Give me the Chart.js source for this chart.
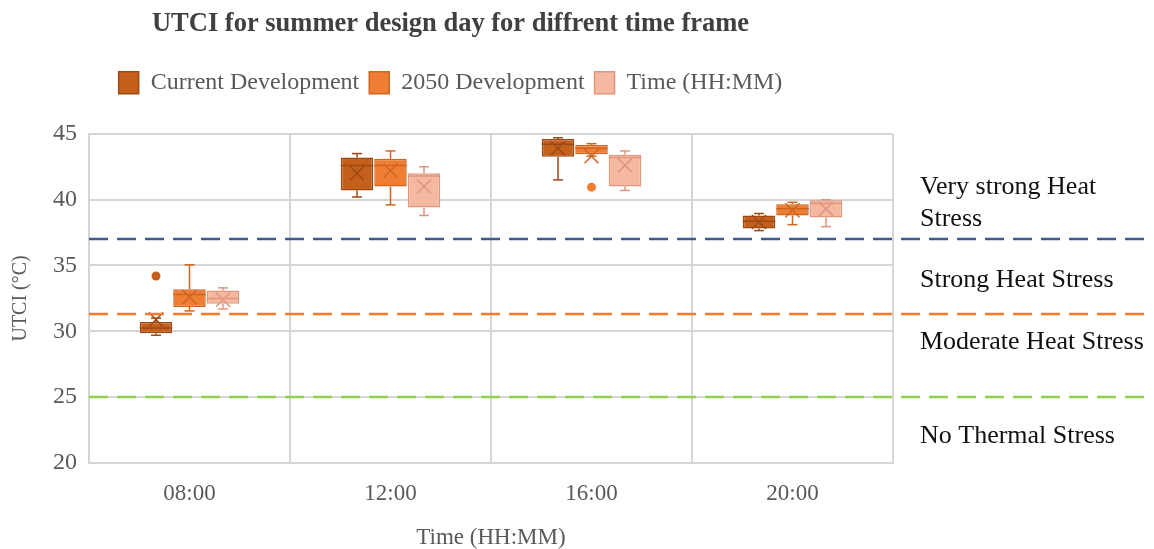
<!DOCTYPE html>
<html>
<head>
<meta charset="utf-8">
<script src="https://cdn.jsdelivr.net/npm/chart.js@4.4.1/dist/chart.umd.min.js"></script>
<style>
  html, body { margin: 0; padding: 0; background: #fff; }
  #wrap { width: 1154px; height: 549px; }
</style>
</head>
<body>
<div id="wrap"><canvas id="utci"></canvas></div>
<script>
// categories and box plot stats
var times = ['08:00', '12:00', '16:00', '20:00'];
var seriesNames = ['Current Development', '2050 Development', 'Time (HH:MM)'];

var currentMin = [29.7, 40.2, 41.5, 37.65];
var currentQ1 = [29.85, 40.7, 43.25, 37.8];
var currentMedian = [30.25, 42.6, 44.2, 38.35];
var currentQ3 = [30.7, 43.2, 44.6, 38.8];
var currentMax = [31.0, 43.5, 44.7, 38.95];
var currentMean = [30.9, 42.0, 43.9, 38.3];
var currentOutliers = [[34.2], [], [], []];

var dev2050Min = [31.55, 39.6, 43.3, 38.1];
var dev2050Q1 = [31.85, 41.0, 43.45, 38.8];
var dev2050Median = [32.8, 42.6, 43.9, 39.3];
var dev2050Q3 = [33.2, 43.1, 44.15, 39.65];
var dev2050Max = [35.05, 43.7, 44.25, 39.8];
var dev2050Mean = [32.6, 42.2, 43.3, 39.2];
var dev2050Outliers = [[], [], [40.95], []];

var timeMin = [31.7, 38.8, 40.7, 37.95];
var timeQ1 = [32.1, 39.4, 41.0, 38.65];
var timeMedian = [32.5, 41.8, 43.2, 39.7];
var timeQ3 = [33.1, 42.0, 43.4, 39.95];
var timeMax = [33.3, 42.5, 43.7, 40.0];
var timeMean = [32.4, 41.0, 42.6, 39.3];
var timeOutliers = [[], [], [], []];

// heat stress thresholds and the text beside them
var thresholdValues = [37.0, 31.3, 25.0];
var stressLabels = [['Very strong Heat', 'Stress'], ['Strong Heat Stress'], ['Moderate Heat Stress'], ['No Thermal Stress']];
var stressLabelValues = [40.95, 33.9, 29.15, 22.0];

var yTicks = [20, 25, 30, 35, 40, 45];

var serif = "'Liberation Serif', 'Times New Roman', serif";
var fills = ['#c55f1c', '#ee7e33', '#f5b9a2'];
var lines = ['#9c4a14', '#cf6521', '#e0967b'];
var thresholdColors = ['#3f5b8c', '#ed7d31', '#92d050'];

var stats = [
  {min: currentMin, q1: currentQ1, med: currentMedian, q3: currentQ3, max: currentMax, mean: currentMean, out: currentOutliers},
  {min: dev2050Min, q1: dev2050Q1, med: dev2050Median, q3: dev2050Q3, max: dev2050Max, mean: dev2050Mean, out: dev2050Outliers},
  {min: timeMin, q1: timeQ1, med: timeMedian, q3: timeQ3, max: timeMax, mean: timeMean, out: timeOutliers}
];

function line(ctx, x1, y1, x2, y2) {
  ctx.beginPath();
  ctx.moveTo(x1, y1);
  ctx.lineTo(x2, y2);
  ctx.stroke();
}

// whiskers, median, mean cross and outliers on top of the floating bars
var boxParts = {
  id: 'boxParts',
  afterDatasetsDraw(chart) {
    var ctx = chart.ctx;
    var y = chart.scales.y;
    ctx.save();
    stats.forEach(function(s, i) {
      var meta = chart.getDatasetMeta(i);
      meta.data.forEach(function(bar, j) {
        var x = bar.x, half = bar.width / 2, cap = 5;
        ctx.strokeStyle = lines[i];
        ctx.lineWidth = 1.5;
        line(ctx, x, y.getPixelForValue(s.q3[j]), x, y.getPixelForValue(s.max[j]));
        line(ctx, x - cap, y.getPixelForValue(s.max[j]), x + cap, y.getPixelForValue(s.max[j]));
        line(ctx, x, y.getPixelForValue(s.q1[j]), x, y.getPixelForValue(s.min[j]));
        line(ctx, x - cap, y.getPixelForValue(s.min[j]), x + cap, y.getPixelForValue(s.min[j]));
        line(ctx, x - half, y.getPixelForValue(s.med[j]), x + half, y.getPixelForValue(s.med[j]));
        var m = y.getPixelForValue(s.mean[j]), k = 7;
        line(ctx, x - k, m - k, x + k, m + k);
        line(ctx, x - k, m + k, x + k, m - k);
        s.out[j].forEach(function(v) {
          ctx.beginPath();
          ctx.arc(x, y.getPixelForValue(v), 4.5, 0, Math.PI * 2);
          ctx.fillStyle = fills[i];
          ctx.fill();
        });
      });
    });
    ctx.restore();
  }
};

// dashed threshold lines running out past the plot, with their labels
var stressBands = {
  id: 'stressBands',
  afterDraw(chart) {
    var ctx = chart.ctx;
    var y = chart.scales.y;
    var area = chart.chartArea;
    ctx.save();
    ctx.lineWidth = 2.5;
    ctx.setLineDash([19, 9]);
    thresholdValues.forEach(function(v, i) {
      ctx.strokeStyle = thresholdColors[i];
      var py = Math.round(y.getPixelForValue(v));
      line(ctx, area.left, py, chart.width - 9, py);
    });
    ctx.setLineDash([]);
    ctx.fillStyle = '#111';
    ctx.font = '26px ' + serif;
    ctx.textBaseline = 'middle';
    ctx.textAlign = 'left';
    stressLabels.forEach(function(txt, i) {
      var py = y.getPixelForValue(stressLabelValues[i]);
      txt.forEach(function(t, n) {
        ctx.fillText(t, area.right + 27, py + n * 32);
      });
    });
    ctx.restore();
  }
};

// extra gap under the legend
var legendGap = {
  id: 'legendGap',
  beforeInit(chart) {
    var fit = chart.legend.fit;
    chart.legend.fit = function() {
      fit.call(this);
      this.height += 29;
    };
  }
};

Chart.defaults.font.family = serif;
Chart.defaults.color = '#595959';

new Chart('utci', {
  type: 'bar',
  data: {
    labels: times,
    datasets: stats.map(function(s, i) {
      return {
        label: seriesNames[i],
        data: s.q1.map(function(v, j) { return [v, s.q3[j]]; }),
        backgroundColor: fills[i],
        borderColor: lines[i],
        borderWidth: 1.5,
        borderSkipped: false,
        barPercentage: 0.97,
        categoryPercentage: 0.5
      };
    })
  },
  options: {
    responsive: true,
    maintainAspectRatio: false,
    animation: false,
    layout: { padding: { left: 8, right: 261, top: 0, bottom: 0 } },
    plugins: {
      tooltip: { enabled: false },
      title: {
        display: true,
        text: 'UTCI for summer design day for diffrent time frame',
        color: '#404040',
        font: { size: 26.5, weight: 'bold', family: serif },
        padding: { top: 8, bottom: 21 }
      },
      legend: {
        position: 'top',
        labels: {
          boxWidth: 20,
          boxHeight: 22,
          padding: 10,
          color: '#595959',
          font: { size: 24, family: serif }
        }
      }
    },
    scales: {
      x: {
        afterFit: function(scale) { scale.height = 86; },
        grid: { offset: true, color: '#d6d6d6', lineWidth: 2, drawTicks: false },
        border: { color: '#d6d6d6', width: 2 },
        ticks: { padding: 17, color: '#595959', font: { size: 23, family: serif } },
        title: {
          display: true,
          text: 'Time (HH:MM)',
          color: '#595959',
          font: { size: 23, family: serif, lineHeight: 1 },
          padding: { top: 0, bottom: 0 }
        }
      },
      y: {
        min: 20,
        max: 45,
        afterFit: function(scale) { scale.width = 81; },
        afterBuildTicks: function(scale) {
          scale.ticks = yTicks.map(function(v) { return {value: v}; });
        },
        grid: { color: '#d6d6d6', lineWidth: 2, drawTicks: false },
        border: { color: '#d6d6d6', width: 2 },
        ticks: { padding: 12, color: '#595959', font: { size: 24, family: serif } },
        title: {
          display: true,
          text: 'UTCI (°C)',
          color: '#595959',
          font: { size: 20, family: serif },
          padding: { top: 1, bottom: 0 }
        }
      }
    }
  },
  plugins: [legendGap, boxParts, stressBands]
});
</script>
</body>
</html>
